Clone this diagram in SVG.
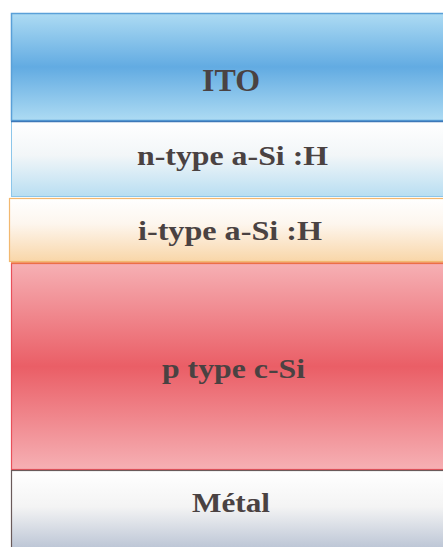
<svg xmlns="http://www.w3.org/2000/svg" width="443" height="547" viewBox="0 0 443 547">
<style>
.lbl{font-family:"Liberation Serif","Times New Roman",serif;font-weight:bold;fill:#4a4242}
</style>
<defs>
<linearGradient id="gIto" x1="0" y1="0" x2="0" y2="1">
<stop offset="0" stop-color="#addbf3"/><stop offset="0.5" stop-color="#62abe2"/><stop offset="1" stop-color="#addbf3"/>
</linearGradient>
<linearGradient id="gN" x1="0" y1="0" x2="0" y2="1">
<stop offset="0" stop-color="#ffffff"/><stop offset="0.45" stop-color="#f2f6f8"/><stop offset="1" stop-color="#b8def2"/>
</linearGradient>
<linearGradient id="gI" x1="0" y1="0" x2="0" y2="1">
<stop offset="0" stop-color="#ffffff"/><stop offset="0.4" stop-color="#fdf6ee"/><stop offset="1" stop-color="#f9d6a8"/>
</linearGradient>
<linearGradient id="gP" x1="0" y1="0" x2="0" y2="1">
<stop offset="0" stop-color="#f6b0b4"/><stop offset="0.5" stop-color="#ea5e66"/><stop offset="1" stop-color="#f6b0b4"/>
</linearGradient>
<linearGradient id="gM" x1="0" y1="0" x2="0" y2="1">
<stop offset="0" stop-color="#ffffff"/><stop offset="0.45" stop-color="#f4f4f4"/><stop offset="1" stop-color="#b9c3d4"/>
</linearGradient>
</defs>
<g id="ito">
<rect x="11.5" y="13.5" width="440" height="107" fill="url(#gIto)" stroke="#5aa0d8" stroke-width="1.5"/>
<text class="lbl" x="202" y="91" font-size="31" textLength="58" lengthAdjust="spacingAndGlyphs">ITO</text>
</g>
<g id="n-type">
<rect x="11.5" y="121.5" width="440" height="75" fill="url(#gN)" stroke="#8cc6ea" stroke-width="1"/>
<line x1="11" y1="121.5" x2="443" y2="121.5" stroke="#3d78b8" stroke-width="1.5"/>
<text class="lbl" x="137" y="165" font-size="27" textLength="191" lengthAdjust="spacingAndGlyphs">n-type a-Si :H</text>
</g>
<g id="i-type">
<rect x="9.5" y="198.5" width="440" height="63" fill="url(#gI)" stroke="#f2b870" stroke-width="1.2"/>
<text class="lbl" x="138" y="240" font-size="27" textLength="184" lengthAdjust="spacingAndGlyphs">i-type a-Si :H</text>
</g>
<g id="p-type">
<rect x="11.5" y="263.5" width="440" height="206" fill="url(#gP)" stroke="#e8505a" stroke-width="1.2"/>
<line x1="11" y1="263" x2="443" y2="263" stroke="#ee7a40" stroke-width="1.5"/>
<text class="lbl" x="162" y="378" font-size="27" fill="#3e3e40" textLength="143" lengthAdjust="spacingAndGlyphs">p type c-Si</text>
</g>
<g id="metal">
<rect x="11.5" y="470.5" width="440" height="80" fill="url(#gM)" stroke="#6a5a5a" stroke-width="1.2"/>
<text class="lbl" x="192" y="512" font-size="27" textLength="78" lengthAdjust="spacingAndGlyphs">Métal</text>
</g>
</svg>
